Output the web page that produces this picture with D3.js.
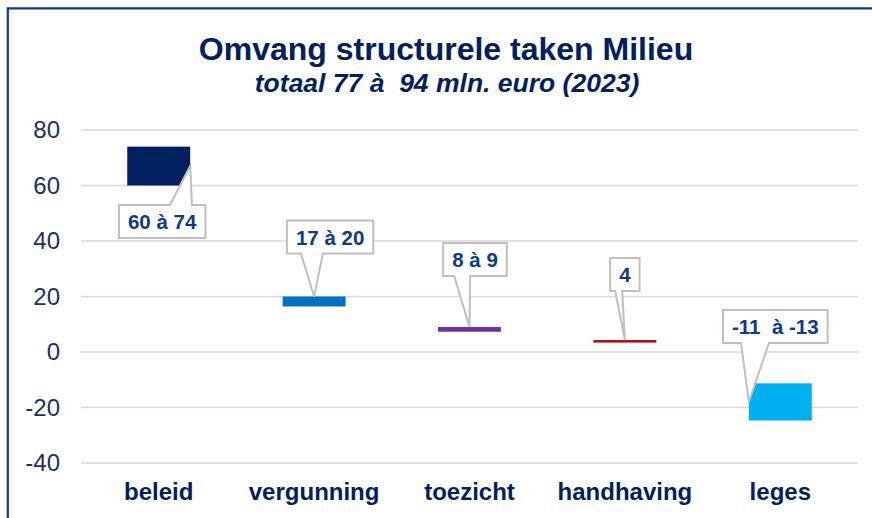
<!DOCTYPE html>
<html>
<head>
<meta charset="utf-8">
<script src="https://cdn.jsdelivr.net/npm/d3@7"></script>
<style>
  html, body { margin: 0; padding: 0; background: #fff; }
  svg { display: block; font-family: Arial, "Liberation Sans", sans-serif; }
</style>
</head>
<body>
<svg id="chart" width="872" height="518"></svg>
<script>
// data
var categories = ["beleid", "vergunning", "toezicht", "handhaving", "leges"];
var lowValues  = [60, 16.4, 7.3, 3.4, -11.3];
var highValues = [74, 20, 9, 4.3, -24.7];
var labels     = ["60 à 74", "17 à 20", "8 à 9", "4", "-11  à -13"];
var yTicks     = [-40, -20, 0, 20, 40, 60, 80];

// styles
var barColors = ["#002060", "#0070c0", "#7030a0", "#c00000", "#00b0f0"];
// callout placement: where the tip points, box offset from tip, wedge base on box
var callouts = [
    { tipX: "right",  tipY: "mid", dx: -28,  dy: 55.5,  b0: 51, b1: 73 },
    { tipX: "center", tipY: "top", dx: 16,   dy: -59.5, b0: 14, b1: 36 },
    { tipX: "center", tipY: "top", dx: 5.5,  dy: -67.5, b0: 11, b1: 27 },
    { tipX: "center", tipY: "top", dx: 0,    dy: -65.5, b0: 5,  b1: 12 },
    { tipX: "left",   tipY: "mid", dx: 26.5, dy: -75.5, b0: 18, b1: 46 }
];

var svg = d3.select("#chart");
var W = 872, H = 518;

var x = d3.scaleBand()
    .domain(categories)
    .range([81, 858])
    .paddingInner(0.595)
    .paddingOuter(0.2975);

var y = d3.scaleLinear()
    .domain([-40, 80])
    .range([463, 130]);

// frame
svg.append("path")
    .attr("d", "M7.8," + H + "V8.3H" + W)
    .attr("fill", "none")
    .attr("stroke", "#0a3a92")
    .attr("stroke-width", 2.2);

// title
svg.append("text")
    .attr("x", 446).attr("y", 60)
    .attr("text-anchor", "middle")
    .attr("font-size", 32).attr("font-weight", "bold")
    .attr("fill", "#002060")
    .text("Omvang structurele taken Milieu");

svg.append("text")
    .attr("x", 447).attr("y", 92)
    .attr("text-anchor", "middle")
    .attr("font-size", 26.5).attr("font-weight", "bold").attr("font-style", "italic")
    .attr("fill", "#002060")
    .style("white-space", "pre")
    .text("totaal 77 à  94 mln. euro (2023)");

// gridlines
svg.append("g").selectAll("line")
    .data(yTicks)
    .join("line")
    .attr("x1", 81).attr("x2", 858)
    .attr("y1", function (d) { return y(d); })
    .attr("y2", function (d) { return y(d); })
    .attr("stroke", "#d9d9d9")
    .attr("stroke-width", 1.6);

// y axis labels (plain hyphen for negatives)
var yAxis = svg.append("g")
    .attr("transform", "translate(60,0)")
    .call(d3.axisLeft(y).tickValues(yTicks).tickFormat(String).tickSize(0).tickPadding(0));
yAxis.select(".domain").remove();
yAxis.selectAll("text")
    .attr("font-size", 24)
    .attr("font-family", "Arial, 'Liberation Sans', sans-serif")
    .attr("fill", "#1b2f66");

// category labels
var xAxis = svg.append("g")
    .attr("transform", "translate(0,500)")
    .call(d3.axisBottom(x).tickSize(0).tickPadding(0));
xAxis.select(".domain").remove();
xAxis.selectAll("text")
    .attr("dy", 0)
    .attr("font-size", 24)
    .attr("font-weight", "bold")
    .attr("font-family", "Arial, 'Liberation Sans', sans-serif")
    .attr("fill", "#002060");

// floating bars
svg.append("g").selectAll("rect")
    .data(categories)
    .join("rect")
    .attr("x", function (d) { return x(d); })
    .attr("width", x.bandwidth())
    .attr("y", function (d, i) { return y(Math.max(lowValues[i], highValues[i])); })
    .attr("height", function (d, i) { return Math.abs(y(lowValues[i]) - y(highValues[i])); })
    .attr("fill", function (d, i) { return barColors[i]; });

// callouts
var boxH = 33;
categories.forEach(function (c, i) {
    var co = callouts[i];
    var tx = co.tipX == "right" ? x(c) + x.bandwidth()
           : co.tipX == "left" ? x(c)
           : x(c) + x.bandwidth() / 2;
    var top = Math.max(lowValues[i], highValues[i]);
    var ty = co.tipY == "top" ? y(top)
           : (y(lowValues[i]) + y(highValues[i])) / 2;

    var g = svg.append("g");
    var path = g.append("path");
    var t = g.append("text")
        .attr("text-anchor", "middle")
        .attr("font-size", 20.5).attr("font-weight", "bold")
        .attr("fill", "#0c3a8c")
        .style("white-space", "pre")
        .text(labels[i]);

    var cx = tx + co.dx, cy = ty + co.dy;
    var bw = t.node().getComputedTextLength() + 18;
    var x0 = cx - bw / 2, x1 = cx + bw / 2;
    var y0 = cy - boxH / 2, y1 = cy + boxH / 2;
    t.attr("x", cx).attr("y", cy + 7.5);

    var d;
    if (ty < y0) {
        // wedge on top edge
        d = "M" + x0 + "," + y0 + "H" + (x0 + co.b0) + "L" + tx + "," + ty +
            "L" + (x0 + co.b1) + "," + y0 + "H" + x1 + "V" + y1 + "H" + x0 + "Z";
    } else {
        d = "M" + x0 + "," + y0 + "H" + x1 + "V" + y1 + "H" + (x0 + co.b1) +
            "L" + tx + "," + ty + "L" + (x0 + co.b0) + "," + y1 + "H" + x0 + "Z";
    }
    path.attr("d", d)
        .attr("fill", "#fff")
        .attr("stroke", "#bfbfbf")
        .attr("stroke-width", 2)
        .attr("stroke-linejoin", "miter");
});
</script>
</body>
</html>
